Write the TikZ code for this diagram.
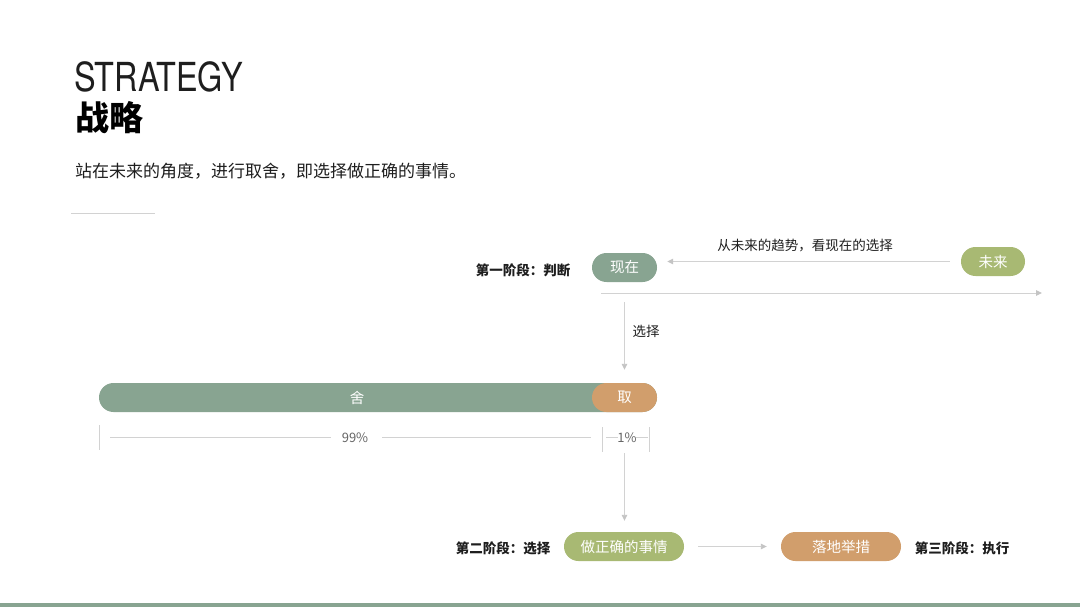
\documentclass[tikz,border=0pt]{standalone}
\usepackage{fontspec}
\setmainfont{Noto Sans CJK SC}
\newfontfamily\heros{TeX Gyre Heros}
\usetikzlibrary{arrows.meta}
\definecolor{cgreen}{HTML}{88A491}
\definecolor{colive}{HTML}{A8B973}
\definecolor{corange}{HTML}{D19E6C}
\definecolor{cline}{HTML}{D2D2D2}
\definecolor{ctip}{HTML}{C4C4C4}
\definecolor{ctext}{HTML}{1E1E1E}
\tikzset{
  pill/.style={rectangle, rounded corners=14.5pt, minimum height=29pt, inner sep=0pt,
    text=white, font=\fontsize{14.5}{14.5}\selectfont},
  stagelabel/.style={font=\fontsize{13.5}{14}\selectfont\bfseries, text=ctext, inner sep=0pt},
  plainlabel/.style={font=\fontsize{13.5}{14}\selectfont, text=ctext, inner sep=0pt},
  thinline/.style={draw=cline, line width=0.9pt},
  arrowline/.style={draw=cline, line width=0.9pt, -{Triangle[length=6pt,width=5.5pt,color=ctip]}},
  pct/.style={font=\fontsize{13}{13}\selectfont, text=black!60, inner sep=0pt}
}
\begin{document}
\begin{tikzpicture}[x=1pt,y=-1pt]
\useasboundingbox (0,0) rectangle (1080,607);
\fill[white] (0,0) rectangle (1080,607);
\fill[cgreen] (0,603) rectangle (1080,607);

% title
\node[anchor=base west, inner sep=0pt, font=\heros\fontsize{40}{40}\selectfont, text=ctext, xscale=0.81] (title) at (74,92) {STRATEGY};
\node[anchor=base west, inner sep=0pt, font=\fontsize{34}{34}\selectfont\bfseries, text=black] (titlecn) at (75,131) {战略};
\node[anchor=base west, inner sep=0pt, font=\fontsize{17}{17}\selectfont, text=ctext] (sub) at (75,178) {站在未来的角度，进行取舍，即选择做正确的事情。};
\coordinate (sl1) at (71,213);
\coordinate (sl2) at (155,213);
\draw[thinline] (sl1) -- (sl2);

% stage 1
\node[pill, fill=cgreen, minimum width=65pt] (now) at (624.5,267.5) {现在};
\node[pill, fill=colive, minimum width=64pt] (future) at (993,261.5) {未来};
\node[stagelabel] (s1) at (523,270) {第一阶段：判断};
\node[plainlabel] (trend) at (805,246) {从未来的趋势，看现在的选择};
\draw[arrowline, shorten <=11pt, shorten >=10pt] (future.west) -- (now.east |- future.west);
\coordinate (tl1) at (601,293);
\coordinate (tl2) at (1042,293);
\draw[arrowline] (tl1) -- (tl2);

% bar
\node[rectangle, rounded corners=14.5pt, fill=cgreen, minimum width=558pt, minimum height=29pt, inner sep=0pt] (bar) at (378,397.5) {};
\node[pill, fill=corange, minimum width=65pt] (qu) at (624.5,397.5) {取};
\node[pill, text=white] (she) at (357,397.5) {舍};
\node[plainlabel] (choose) at (646,331) {选择};
\draw[arrowline, shorten <=20pt, shorten >=13pt] (now.south) -- (qu.north);

% dimensions
\coordinate (t1a) at (99,425); \coordinate (t1b) at (99,450);
\coordinate (t2a) at (602,427); \coordinate (t2b) at (602,452);
\coordinate (t3a) at (649,427); \coordinate (t3b) at (649,452);
\draw[thinline] (t1a) -- (t1b);
\draw[thinline] (t2a) -- (t2b);
\draw[thinline] (t3a) -- (t3b);
\node[pct] (p99) at (355,438) {99\%};
\node[pct] (p1) at (627,438) {1\%};
\coordinate (d1) at (110,437); \coordinate (d1e) at (331,437);
\coordinate (d2s) at (382,437); \coordinate (d2) at (591,437);
\coordinate (d3) at (606,437); \coordinate (d3e) at (618,437);
\coordinate (d4s) at (636,437); \coordinate (d4) at (648,437);
\draw[thinline] (d1) -- (d1e);
\draw[thinline] (d2s) -- (d2);
\draw[thinline] (d3) -- (d3e);
\draw[thinline] (d4s) -- (d4);

% stage 2/3
\node[pill, fill=colive, minimum width=120pt] (do) at (624,546.5) {做正确的事情};
\node[pill, fill=corange, minimum width=120pt] (act) at (841,546.5) {落地举措};
\node[stagelabel] (s2) at (503,548) {第二阶段：选择};
\node[stagelabel] (s3) at (962,548) {第三阶段：执行};
\draw[arrowline, shorten <=41pt, shorten >=11pt] (qu.south) -- (qu.south |- do.north);
\draw[arrowline, shorten <=14pt, shorten >=14pt] (do.east) -- (act.west);
\end{tikzpicture}
\end{document}
